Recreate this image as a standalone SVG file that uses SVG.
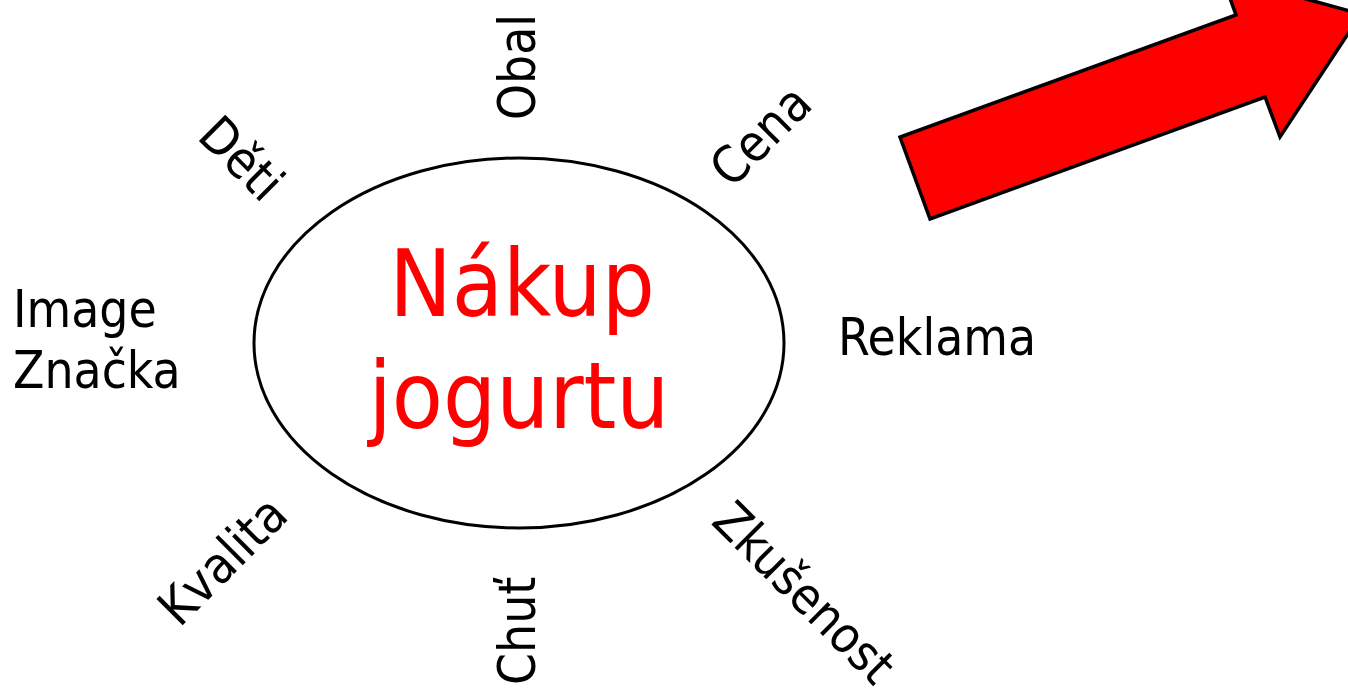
<svg xmlns="http://www.w3.org/2000/svg" width="1348" height="698" viewBox="0 0 1348 698">
  <style>
    text { font-family: "DejaVu Sans Condensed", "DejaVu Sans", "Liberation Sans", sans-serif; font-stretch: condensed; }
    .lbl { font-size: 51px; fill: #000000; }
    .title { font-size: 93px; fill: #ff0000; text-anchor: middle; }
    .mid { text-anchor: middle; }
  </style>
  <rect width="1348" height="698" fill="#ffffff"/>
  <g id="center">
    <ellipse cx="519" cy="343" rx="265" ry="185" fill="none" stroke="#000000" stroke-width="3"/>
    <text class="title" x="522" y="316">Nákup</text>
    <text class="title" x="519" y="428">jogurtu</text>
  </g>
  <g id="obal"><text class="lbl" transform="translate(535,120) rotate(-90)">Obal</text></g>
  <g id="chut"><text class="lbl" transform="translate(535,685) rotate(-90)">Chuť</text></g>
  <g id="deti"><text class="lbl mid" transform="translate(229,171) rotate(45)">Děti</text></g>
  <g id="cena"><text class="lbl mid" transform="translate(773,148) rotate(-45)">Cena</text></g>
  <g id="kvalita"><text class="lbl mid" transform="translate(235,573) rotate(-45)">Kvalita</text></g>
  <g id="zkusenost"><text class="lbl mid" transform="translate(792,605) rotate(45)" style="font-size:50px">Zkušenost</text></g>
  <g id="reklama"><text class="lbl" x="838" y="355">Reklama</text></g>
  <g id="image-znacka">
    <text class="lbl" x="13" y="327">Image</text>
    <text class="lbl" x="13" y="388">Značka</text>
  </g>
  <g id="connectors">
    <polygon id="arrow" points="930,219 900,137 1236,15 1222,-24 1361,14 1280,137 1265,97" fill="#ff0000" stroke="#000000" stroke-width="3.5" stroke-linejoin="miter"/>
  </g>
</svg>
